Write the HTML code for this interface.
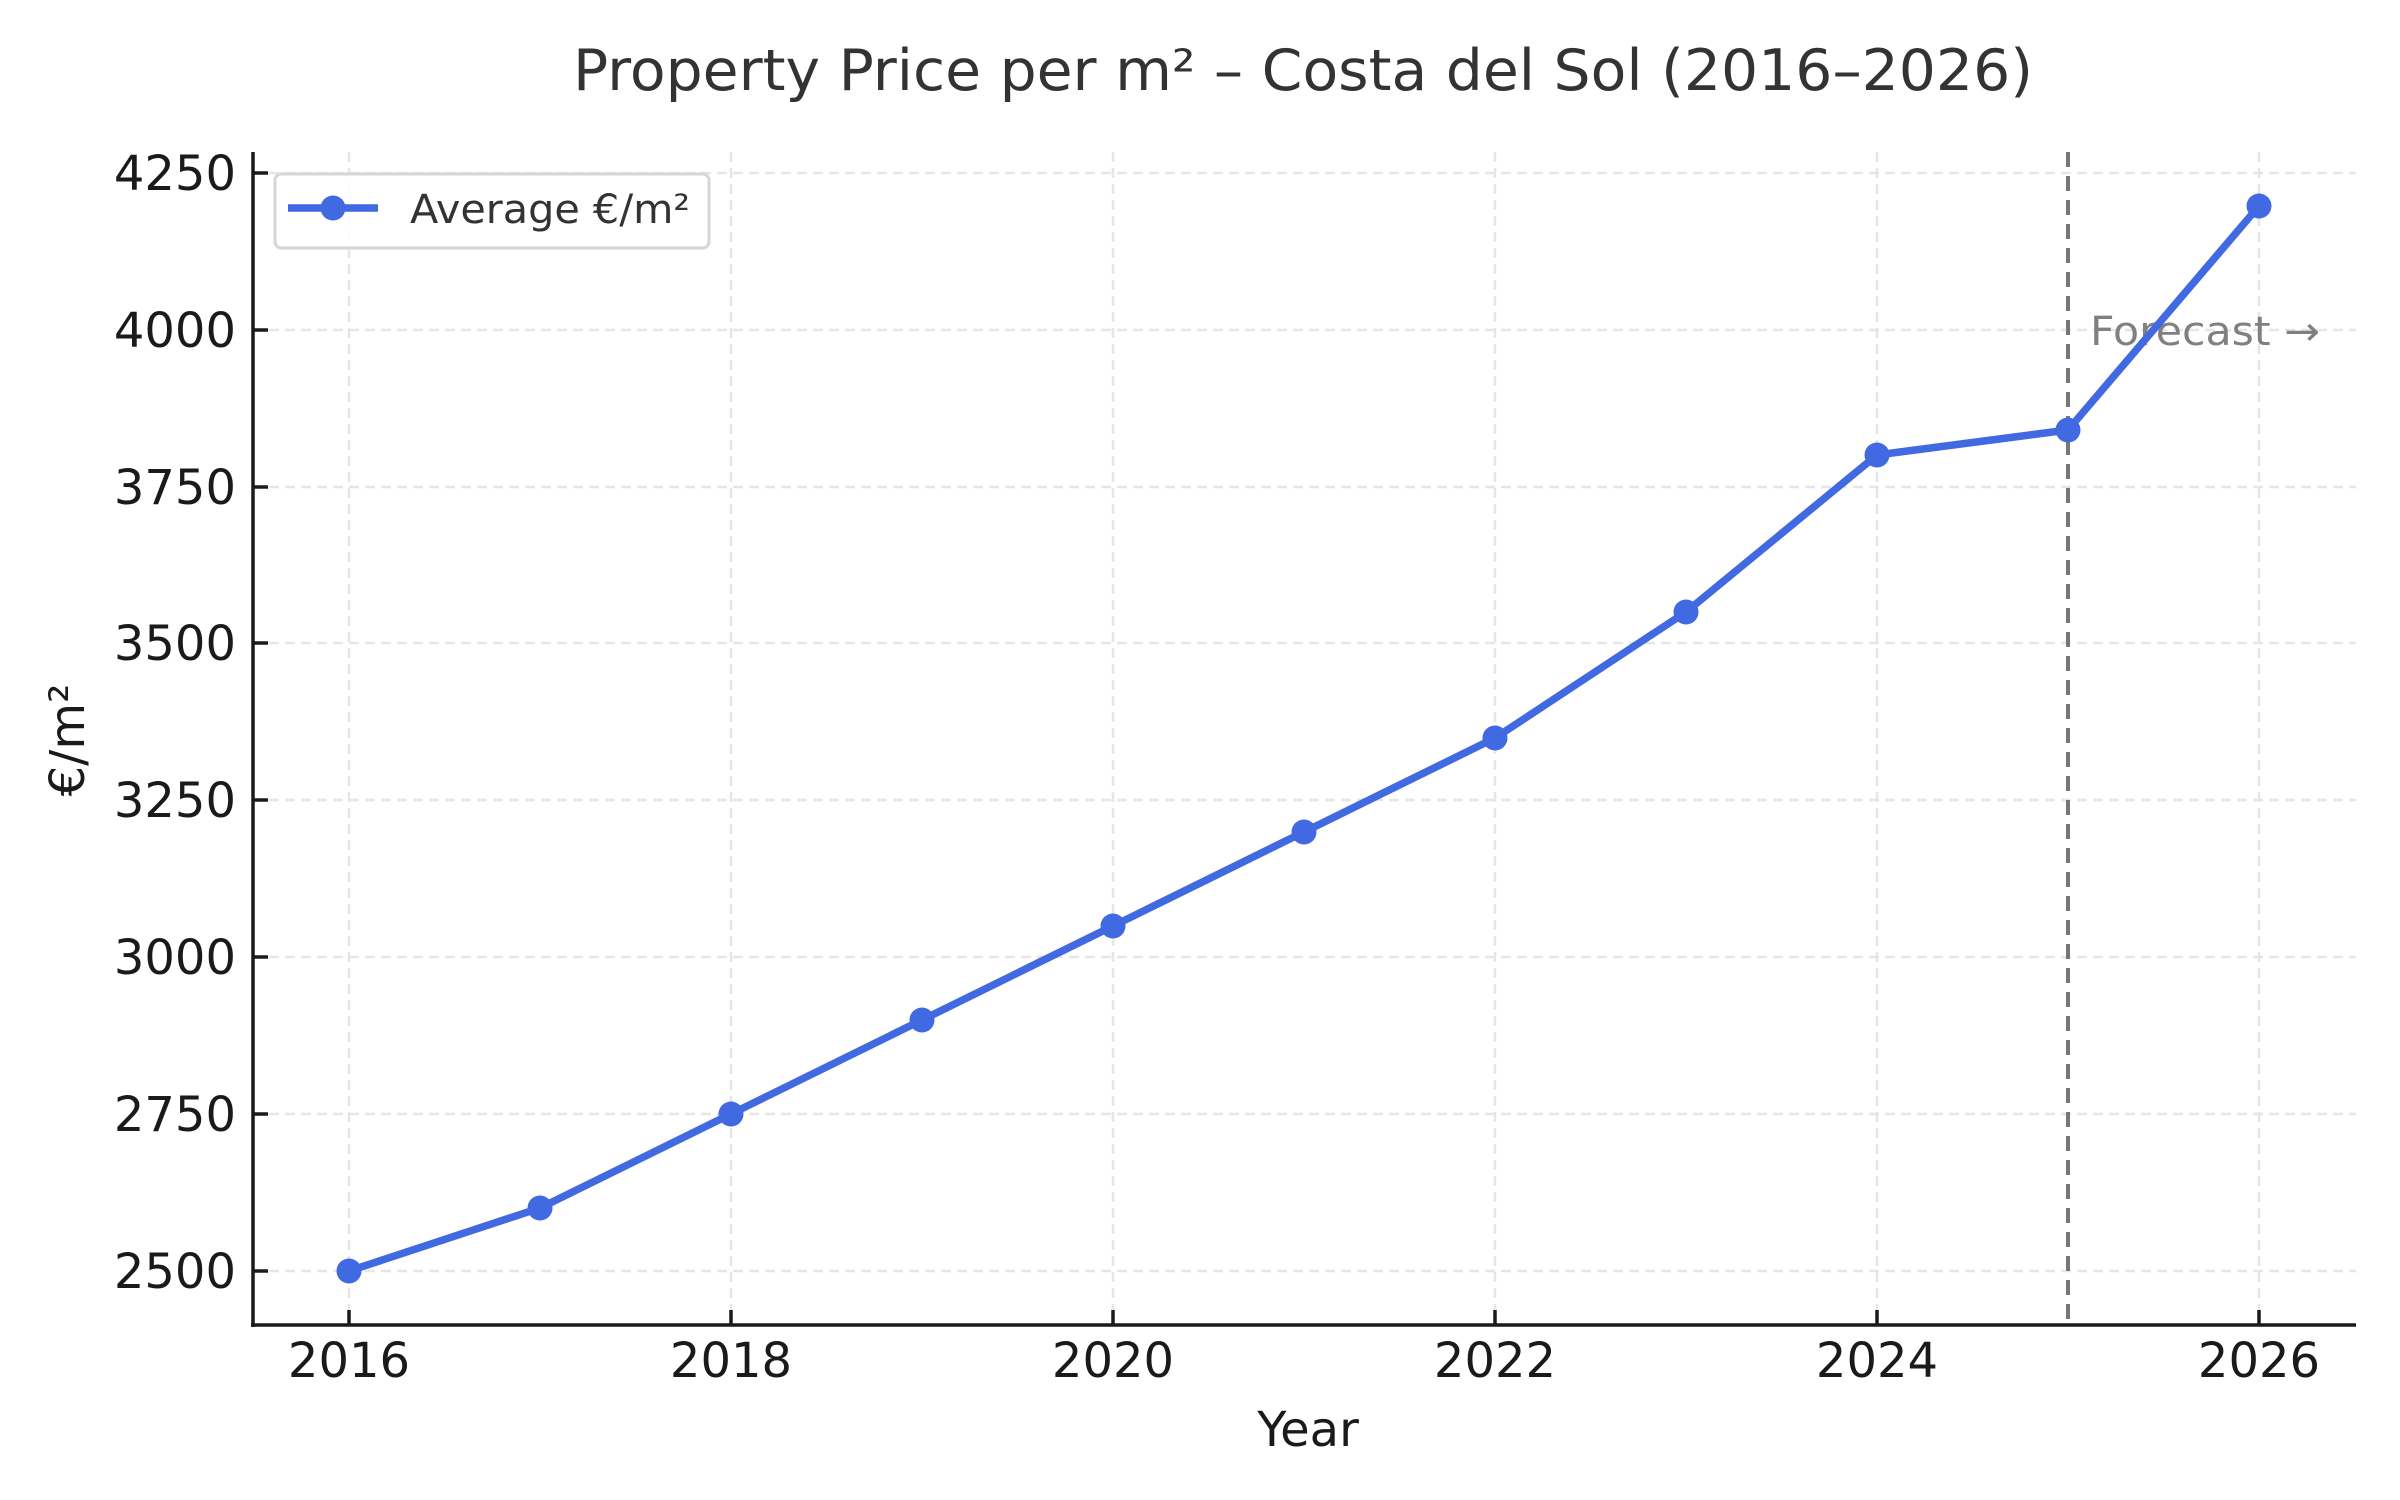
<!DOCTYPE html>
<html><head><meta charset="utf-8"><style>
html,body{margin:0;padding:0;background:#fff}
svg{display:block}
text{font-family:"DejaVu Sans","Liberation Sans",sans-serif}
</style></head><body>
<svg width="2400" height="1500" viewBox="0 0 2400 1500" xmlns="http://www.w3.org/2000/svg">
<rect width="2400" height="1500" fill="#fff"/>
<g stroke="#e6e6e6" stroke-width="2.5" stroke-dasharray="10,6" fill="none">
<line x1="349" y1="152" x2="349" y2="1325"/>
<line x1="731" y1="152" x2="731" y2="1325"/>
<line x1="1113" y1="152" x2="1113" y2="1325"/>
<line x1="1495" y1="152" x2="1495" y2="1325"/>
<line x1="1877" y1="152" x2="1877" y2="1325"/>
<line x1="2259" y1="152" x2="2259" y2="1325"/>
<line x1="253" y1="1271" x2="2356" y2="1271"/>
<line x1="253" y1="1114" x2="2356" y2="1114"/>
<line x1="253" y1="957" x2="2356" y2="957"/>
<line x1="253" y1="800" x2="2356" y2="800"/>
<line x1="253" y1="643" x2="2356" y2="643"/>
<line x1="253" y1="487" x2="2356" y2="487"/>
<line x1="253" y1="330" x2="2356" y2="330"/>
<line x1="253" y1="173" x2="2356" y2="173"/>
</g>
<line x1="2068" y1="152" x2="2068" y2="1325" stroke="#777" stroke-width="4" stroke-dasharray="15,9"/>
<text x="2090" y="345" font-size="40" fill="#808080" textLength="230" lengthAdjust="spacingAndGlyphs">Forecast →</text>
<g stroke="#1a1a1a" stroke-width="3.5">
<line x1="253" y1="152" x2="253" y2="1327"/>
<line x1="251" y1="1325" x2="2356" y2="1325"/>
<line x1="253" y1="1271" x2="268" y2="1271"/><line x1="253" y1="1114" x2="268" y2="1114"/>
<line x1="253" y1="957" x2="268" y2="957"/><line x1="253" y1="800" x2="268" y2="800"/>
<line x1="253" y1="643" x2="268" y2="643"/><line x1="253" y1="487" x2="268" y2="487"/>
<line x1="253" y1="330" x2="268" y2="330"/><line x1="253" y1="173" x2="268" y2="173"/>
<line x1="349" y1="1325" x2="349" y2="1310"/><line x1="731" y1="1325" x2="731" y2="1310"/>
<line x1="1113" y1="1325" x2="1113" y2="1310"/><line x1="1495" y1="1325" x2="1495" y2="1310"/>
<line x1="1877" y1="1325" x2="1877" y2="1310"/><line x1="2259" y1="1325" x2="2259" y2="1310"/>
</g>
<g font-size="48" fill="#1a1a1a" text-anchor="end">
<text x="236" y="1288">2500</text><text x="236" y="1131">2750</text>
<text x="236" y="974">3000</text><text x="236" y="817">3250</text>
<text x="236" y="660">3500</text><text x="236" y="504">3750</text>
<text x="236" y="347">4000</text><text x="236" y="190">4250</text>
</g>
<g font-size="48" fill="#1a1a1a" text-anchor="middle">
<text x="349" y="1377">2016</text><text x="731" y="1377">2018</text>
<text x="1113" y="1377">2020</text><text x="1495" y="1377">2022</text>
<text x="1877" y="1377">2024</text><text x="2259" y="1377">2026</text>
<text x="1308" y="1446">Year</text>
<text transform="translate(84,740) rotate(-90)">€/m²</text>
</g>
<text x="1303" y="90" font-size="57" fill="#333" text-anchor="middle" textLength="1460" lengthAdjust="spacingAndGlyphs">Property Price per m² – Costa del Sol (2016–2026)</text>
<polyline fill="none" stroke="#4169e1" stroke-width="7.5" stroke-linejoin="round" points="349,1271 540,1208 731,1114 922,1020 1113,926 1304,832 1495,738 1686,612 1877,455 2068,430 2259,206"/>
<g fill="#4169e1">
<circle cx="349" cy="1271" r="12.5"/><circle cx="540" cy="1208" r="12.5"/><circle cx="731" cy="1114" r="12.5"/>
<circle cx="922" cy="1020" r="12.5"/><circle cx="1113" cy="926" r="12.5"/><circle cx="1304" cy="832" r="12.5"/>
<circle cx="1495" cy="738" r="12.5"/><circle cx="1686" cy="612" r="12.5"/><circle cx="1877" cy="455" r="12.5"/>
<circle cx="2068" cy="430" r="12.5"/><circle cx="2259" cy="206" r="12.5"/>
</g>
<rect x="275" y="174" width="434" height="74" rx="6" fill="#fff" fill-opacity="0.85" stroke="#d6d6d6" stroke-width="3"/>
<line x1="288" y1="208" x2="378" y2="208" stroke="#4169e1" stroke-width="7.5"/>
<circle cx="333" cy="208" r="12.5" fill="#4169e1"/>
<text x="410" y="223" font-size="40" fill="#333" textLength="280" lengthAdjust="spacingAndGlyphs">Average €/m²</text>
</svg>
</body></html>
